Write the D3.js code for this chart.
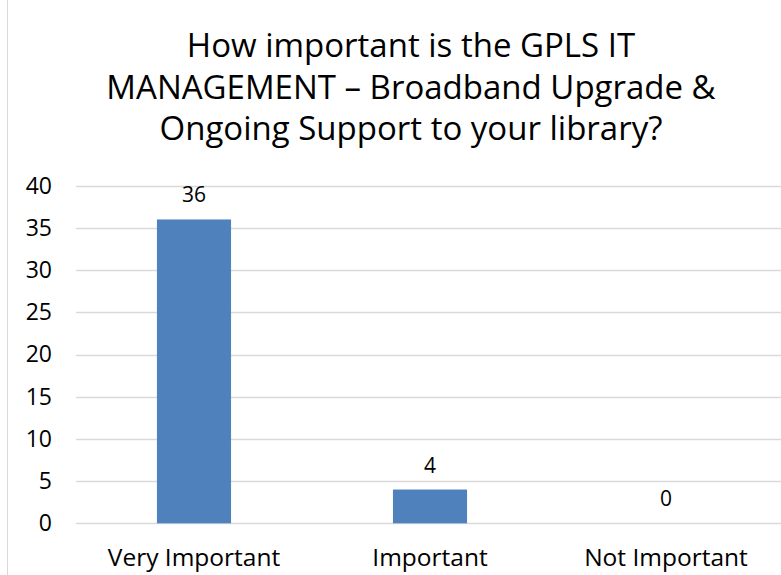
<!DOCTYPE html>
<head>
  <meta charset="utf-8">
  <title>IT Management</title>
  <style>
      body { margin: 0; background: #fff; }
      text { font-family: "Open Sans", "Liberation Sans", sans-serif; fill: #000; }
  </style>
  <script src="https://d3js.org/d3.v7.js"></script>
</head>
<body>
<div id="chart"></div>
<script>
    // data
    const categories = ["Very Important", "Important", "Not Important"];
    const values = [36, 4, 0];
    const yTicks = [0, 5, 10, 15, 20, 25, 30, 35, 40];
    const titleLines = ["How important is the GPLS IT", "MANAGEMENT \u2013 Broadband Upgrade &", "Ongoing Support to your library?"];

    const width = 781, height = 575;

    const svg = d3.select("#chart")
        .append("svg")
        .attr("width", width)
        .attr("height", height);

    // light frame line on the left
    svg.append("line")
        .attr("x1", 7.5).attr("x2", 7.5)
        .attr("y1", 0).attr("y2", height)
        .style("stroke", "#d9d9d9");

    const x = d3.scaleBand()
        .domain(categories)
        .range([76, 784])
        .paddingInner(0.686)
        .paddingOuter(0.343);

    const y = d3.scaleLinear()
        .domain([0, 40])
        .range([523.3, 185.7]);

    // grid lines
    svg.append("g")
        .selectAll("line")
        .data(yTicks)
        .join("line")
        .attr("x1", 76)
        .attr("x2", width)
        .attr("y1", d => Math.round(y(d)) + 0.5)
        .attr("y2", d => Math.round(y(d)) + 0.5)
        .style("stroke", "#d9d9d9")
        .style("stroke-width", 1.5);

    // y axis labels
    const yAxis = svg.append("g")
        .attr("transform", "translate(52, 0)")
        .call(d3.axisLeft(y).tickValues(yTicks).tickSize(0).tickPadding(0));
    yAxis.select(".domain").remove();
    yAxis.selectAll("text")
        .style("font-size", "23px")
        .style("fill", "#000");

    // bars
    svg.append("g")
        .selectAll("rect")
        .data(values)
        .join("rect")
        .attr("x", (d, i) => x(categories[i]))
        .attr("y", d => y(d))
        .attr("width", x.bandwidth())
        .attr("height", d => y(0) - y(d))
        .style("fill", "#4f81bd");

    // value labels
    svg.append("g")
        .selectAll("text")
        .data(values)
        .join("text")
        .attr("x", (d, i) => x(categories[i]) + x.bandwidth() / 2)
        .attr("y", d => y(d) - 17)
        .attr("text-anchor", "middle")
        .style("font-size", "21px")
        .text(d => d);

    // x axis labels
    const xAxis = svg.append("g")
        .attr("transform", "translate(0, 523)")
        .call(d3.axisBottom(x).tickSize(0).tickPadding(26));
    xAxis.select(".domain").remove();
    xAxis.selectAll("text")
        .style("font-size", "24.5px")
        .style("fill", "#000");

    // title
    svg.append("g")
        .selectAll("text")
        .data(titleLines)
        .join("text")
        .attr("x", 411)
        .attr("y", (d, i) => 57 + i * 41.5)
        .attr("text-anchor", "middle")
        .style("font-size", "33px")
        .text(d => d);
</script>
</body>
